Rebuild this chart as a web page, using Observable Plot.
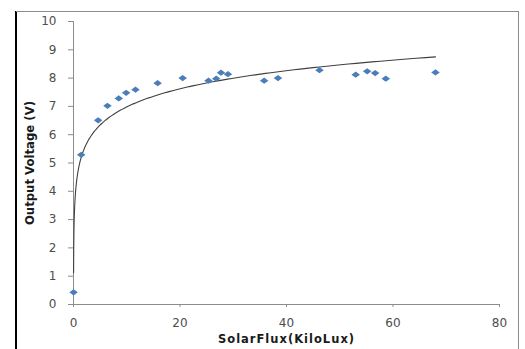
<!DOCTYPE html>
<html>
<head>
<meta charset="utf-8">
<script src="https://cdn.jsdelivr.net/npm/d3@7"></script>
<script src="https://cdn.jsdelivr.net/npm/@observablehq/plot@0.6"></script>
<style>
  html, body { margin: 0; padding: 0; background: #fff; }
  #chart { width: 525px; height: 349px; }
</style>
</head>
<body>
<div id="chart"></div>
<script>
const solarFlux = [0.0175, 1.44, 4.63, 6.38, 8.5, 9.89, 11.64, 15.8, 20.5, 25.35, 26.8, 27.7, 29.0, 35.8, 38.4, 46.2, 53.0, 55.15, 56.65, 58.65, 67.98];
const outputVoltage = [0.43, 5.29, 6.51, 7.02, 7.28, 7.48, 7.59, 7.82, 8.0, 7.91, 7.98, 8.19, 8.14, 7.91, 8.0, 8.28, 8.12, 8.24, 8.18, 7.98, 8.2];
const xTicks = [0, 20, 40, 60, 80];
const yTicks = [0, 1, 2, 3, 4, 5, 6, 7, 8, 9, 10];
const xTitle = "SolarFlux(KiloLux)";
const yTitle = "Output Voltage (V)";

const points = solarFlux.map((x, i) => ({x, y: outputVoltage[i]}));

// Logarithmic trendline (least squares of y on ln x), as in the original spreadsheet chart
const lx = points.map(d => Math.log(d.x));
const mL = d3.mean(lx), mY = d3.mean(points, d => d.y);
const a = d3.sum(points, (d, i) => (lx[i] - mL) * (d.y - mY)) / d3.sum(lx, l => (l - mL) ** 2);
const b = mY - a * mL;
const [x0, x1] = d3.extent(solarFlux);
const trend = d3.range(0, 301).map(k => {
  const x = Math.exp(Math.log(x0) + (Math.log(x1) - Math.log(x0)) * k / 300);
  return {x, y: a * Math.log(x) + b};
});

const axisColor = "#8c8c8c";
const textColor = "#4d4d4d";

// Wide, flat diamond like the spreadsheet marker
const flatDiamond = {
  draw(context, size) {
    const w = Math.sqrt(size) * 0.75, h = Math.sqrt(size) * 0.55;
    context.moveTo(0, -h);
    context.lineTo(w, 0);
    context.lineTo(0, h);
    context.lineTo(-w, 0);
    context.closePath();
  }
};

const chart = Plot.plot({
  width: 525,
  height: 349,
  marginLeft: 73,
  marginRight: 26,
  marginTop: 21,
  marginBottom: 45,
  style: {fontFamily: "DejaVu Sans", fontSize: "12px", background: "#fff", overflow: "visible"},
  x: {domain: [0, 80]},
  y: {domain: [0, 10]},
  marks: [
    Plot.ruleY([0], {stroke: axisColor, strokeWidth: 1}),
    Plot.ruleX([0], {stroke: axisColor, strokeWidth: 1}),
    Plot.axisX({ticks: xTicks, tickSize: 3, tickPadding: 11, stroke: axisColor, fill: textColor, label: null, fontSize: 12}),
    Plot.axisY({ticks: yTicks, tickSize: 5, tickPadding: 12, stroke: axisColor, fill: textColor, label: null, fontSize: 12}),
    Plot.line(trend, {x: "x", y: "y", stroke: "#404040", strokeWidth: 1.1}),
    Plot.dot(points, {x: "x", y: "y", symbol: flatDiamond, r: 3.2, fill: "#4a7ebb", stroke: "none"}),
    Plot.text([xTitle], {frameAnchor: "bottom", dy: 38, text: d => d, fontWeight: "bold", fontSize: 11.5, fill: "#1a1a1a", fontFamily: "DejaVu Sans"}),
    Plot.text([yTitle], {frameAnchor: "left", textAnchor: "middle", dx: -44, rotate: -90, text: d => d, fontWeight: "bold", fontSize: 13, fill: "#1a1a1a", fontFamily: "DejaVu Sans Condensed"})
  ]
});

// chart frame border (as in the spreadsheet export)
const svg = d3.select(chart);
svg.append("line").attr("x1", 16).attr("x2", 16).attr("y1", 11).attr("y2", 349).attr("stroke", "#000").attr("stroke-width", 2);
svg.append("line").attr("x1", 16).attr("x2", 518.5).attr("y1", 11.5).attr("y2", 11.5).attr("stroke", "#8c8c8c").attr("stroke-width", 1);
svg.append("line").attr("x1", 518.5).attr("x2", 518.5).attr("y1", 11).attr("y2", 349).attr("stroke", "#8c8c8c").attr("stroke-width", 1);
svg.selectAll("text").filter(function() { return this.textContent === xTitle; }).attr("letter-spacing", "1px");

document.getElementById("chart").appendChild(chart);
</script>
</body>
</html>
